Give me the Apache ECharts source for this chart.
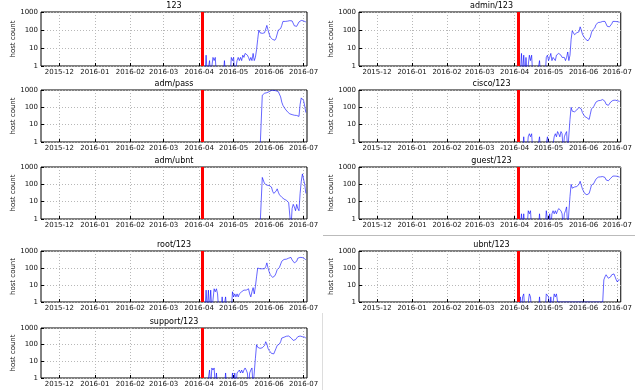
<!DOCTYPE html>
<html><head><meta charset="utf-8">
<script src="https://cdn.jsdelivr.net/npm/echarts@6/dist/echarts.min.js"></script>
<style>html,body{margin:0;padding:0;background:#fff}#c{width:635px;height:390px}</style>
</head><body><div id="c"></div>
<script>
// ---- data ----
const panelTitles = ['123','admin/123','adm/pass','cisco/123','adm/ubnt','guest/123','root/123','ubnt/123','support/123'];
const tickLabels = ['2015-12','2016-01','2016-02','2016-03','2016-04','2016-05','2016-06','2016-07'];
const axisStart = '2015-11-15';
const axisEnd = '2016-07-04';
const seriesStart = '2016-04-04';   // first day of the daily counts below
const redLineDate = '2016-04-04';
const yAxisName = 'host count';

const v123 = [0,0,0,4,0,0,2,0,0,3, 2,3,0,0,0,0,0,0,0,2, 0,0,0,0,0,3,2,3,0,0, 2,3,2,3,2,4,3,5,6,4,
  3,2,3,2,5,2,3,8,30,100, 70,60,65,75,70,80,180,100,60,40, 35,30,25,27,35,60,100,110,120,180,
  300,310,300,290,310,280,330,380,320,250, 170,150,160,180,280,350,340,330,320,300, 280];
const vAdmin123 = [0,0,0,5,0,4,0,3,0,0, 4,2,4,0,0,0,0,0,0,2, 0,0,0,0,0,3,4,2,3,5, 2,3,3,2,4,4,5,6,4,3,
  3,3,2,3,6,2,4,30,90,70, 55,60,70,75,80,150,100,60,45,35, 30,25,25,28,40,70,100,110,130,200,
  250,260,250,270,280,300,350,300,250,160, 140,150,160,220,300,310,300,300,290,280, 270];
const vAdmPass = [0,0,0,0,0,0,0,0,0,0, 0,0,0,0,0,0,0,0,0,0, 0,0,0,0,0,0,0,0,0,0, 0,0,0,0,0,0,0,0,0,0,
  0,0,0,0,0,0,0,0,0,0, 0,0,500,600,650,650,700,750,800,900, 950,1000,950,900,900,850,800,700,400,200,
  130,100,80,65,55,45,42,40,38,40, 35,36,34,33,30,150,350,400,250,120, 50];
const vCisco123 = [0,0,0,0,0,2,0,0,0,2, 3,2,3,0,0,0,0,0,0,2, 0,0,0,0,0,0,2,2,0,0, 0,0,2,3,2,4,3,2,4,3,
  0,2,3,4,0,0,20,100,60,50, 55,60,70,75,100,130,80,50,40,30, 28,25,22,20,40,80,100,110,130,200,
  250,240,230,250,260,280,300,220,150,120, 130,150,200,250,250,240,260,250,240,230, 220];
const vAdmUbnt = [0,0,0,0,0,0,0,0,0,0, 0,0,0,0,0,0,0,0,0,0, 0,0,0,0,0,0,0,0,0,0, 0,0,0,0,0,0,0,0,0,0,
  0,0,0,0,0,0,0,0,0,0, 0,0,250,200,110,95,90,90,85,90, 70,40,30,25,40,55,35,25,20,18,
  15,14,15,12,10,9,9,0,4,7, 5,3,7,4,3,30,150,400,200,100, 30];
const vGuest123 = [0,0,0,2,0,2,0,0,0,3, 2,3,0,0,0,0,0,0,0,2, 0,0,0,0,0,3,3,0,2,0, 2,3,2,3,2,3,4,5,3,2,
  0,2,3,5,0,0,20,100,60,60, 70,65,75,80,100,150,90,55,40,30, 28,25,25,30,50,90,100,110,130,200,
  250,260,250,270,260,280,320,250,180,150, 160,170,220,280,300,310,300,300,290,280, 260];
const vRoot123 = [0,0,0,5,0,5,0,5,0,0, 6,4,6,3,0,0,0,2,0,0, 2,0,0,0,0,0,4,2,3,2, 3,2,3,3,4,4,5,4,5,4,
  6,3,2,4,7,3,8,30,100,110, 90,80,90,100,90,120,200,100,60,40, 32,28,30,35,50,80,100,110,130,250,
  300,320,300,330,350,380,400,420,300,250, 200,210,250,380,400,420,400,410,380,350, 300];
const vUbnt123 = [0,0,2,0,2,3,0,0,0,0, 3,2,0,0,0,0,0,0,0,2, 0,0,0,0,0,3,3,2,0,2, 0,0,3,2,3,1,1,1,1,1,
  1,1,1,1,1,1,1,1,1,1, 1,1,1,1,1,1,1,1,1,1, 1,1,1,1,1,1,1,1,1,1,
  1,1,1,1,1,1,20,30,40,35, 25,25,30,40,50,45,30,20,15,20, 20];
const vSupport123 = [0,0,0,0,0,0,3,0,4,3, 4,0,2,0,0,0,0,0,0,0, 2,0,0,0,0,0,2,0,2,0, 2,2,3,2,3,2,3,4,3,2,
  0,2,3,4,0,0,15,100,70,60, 60,70,65,80,90,150,110,60,45,35, 30,28,28,35,60,90,100,110,150,250,
  300,280,290,320,300,330,350,260,200,180, 170,200,250,300,320,330,310,300,300,280, 250];

const panelValues = [v123, vAdmin123, vAdmPass, vCisco123, vAdmUbnt, vGuest123, vRoot123, vUbnt123, vSupport123];

// ---- layout (positions kept separate from data) ----
const L = 41, LW = 266, R = 359, RW = 265;
const layout = [
  {left:L, top:12, width:LW, height:54}, {left:R, top:12, width:RW, height:54},
  {left:L, top:90, width:LW, height:52}, {left:R, top:90, width:RW, height:52},
  {left:L, top:167, width:LW, height:52}, {left:R, top:167, width:RW, height:52},
  {left:L, top:251, width:LW, height:51}, {left:R, top:251, width:RW, height:51},
  {left:L, top:328, width:LW, height:50}
];

function toTs(s){ const p = s.split('-').map(Number); return new Date(p[0], p[1]-1, p[2] || 1).getTime(); }
const tickValues = tickLabels.map(toTs);
const FONT = 'DejaVu Sans';
const sp = seriesStart.split('-').map(Number);
const dayTs = i => new Date(sp[0], sp[1]-1, sp[2] + i).getTime();
const GRID_LINE = {color:'#b8b8b8', width:1, type:[1,2]};

const grids = [], xAxes = [], yAxes = [], series = [], titles = [];
panelValues.forEach((vals, k) => {
  const g = layout[k];
  grids.push({left:g.left, top:g.top, width:g.width, height:g.height, show:true, borderColor:'#000', borderWidth:1, backgroundColor:'#fff'});
  titles.push({text:panelTitles[k], left:g.left + g.width/2, top:g.top - 10, textAlign:'center', padding:0,
    textStyle:{fontSize:8, fontWeight:'normal', color:'#000', fontFamily:FONT}});
  xAxes.push({type:'value', gridIndex:k, min:toTs(axisStart), max:toTs(axisEnd),
    axisLine:{show:false},
    axisTick:{show:true, inside:true, length:3, lineStyle:{color:'#000'}, customValues:tickValues},
    axisLabel:{show:true, customValues:tickValues, fontSize:7, color:'#111', fontFamily:FONT, margin:3,
      formatter: v => { const j = tickValues.indexOf(v); return j >= 0 ? tickLabels[j] : ''; }},
    splitLine:{show:true, lineStyle:GRID_LINE}
  });
  yAxes.push({type:'log', logBase:10, gridIndex:k, min:1, max:1000,
    name:yAxisName, nameLocation:'middle', nameGap:24, nameRotate:90,
    nameTextStyle:{fontSize:7, color:'#111', fontFamily:FONT},
    axisLine:{show:false},
    axisTick:{show:true, inside:true, length:3, lineStyle:{color:'#000'}},
    axisLabel:{fontSize:7, color:'#111', fontFamily:FONT, margin:3, formatter: v => String(Math.round(v))},
    splitLine:{show:true, lineStyle:GRID_LINE}
  });
  series.push({type:'line', xAxisIndex:k, yAxisIndex:k, symbol:'none', showSymbol:false, clip:true,
    animation:false,
    lineStyle:{color:'#0000ff', width:1, opacity:0.6},
    data: vals.map((v, i) => [dayTs(i), v > 0 ? v : 0.3]),
    markLine:{silent:true, symbol:['none','none'], animation:false, label:{show:false},
      lineStyle:{color:'#ff0000', width:3, type:'solid', opacity:1},
      emphasis:{disabled:true},
      data:[{xAxis: toTs(redLineDate)}]}
  });
});

const chart = echarts.init(document.getElementById('c'), null, {renderer:'canvas'});
chart.setOption({
  animation:false,
  backgroundColor:'#fff',
  title: titles,
  grid: grids,
  xAxis: xAxes,
  yAxis: yAxes,
  series: series,
  graphic: [
    {type:'line', silent:true, shape:{x1:323, y1:235.5, x2:635, y2:235.5}, style:{stroke:'#bbb', lineWidth:1}},
    {type:'line', silent:true, shape:{x1:322.5, y1:313, x2:322.5, y2:390}, style:{stroke:'#ddd', lineWidth:1}}
  ]
});
</script></body></html>
